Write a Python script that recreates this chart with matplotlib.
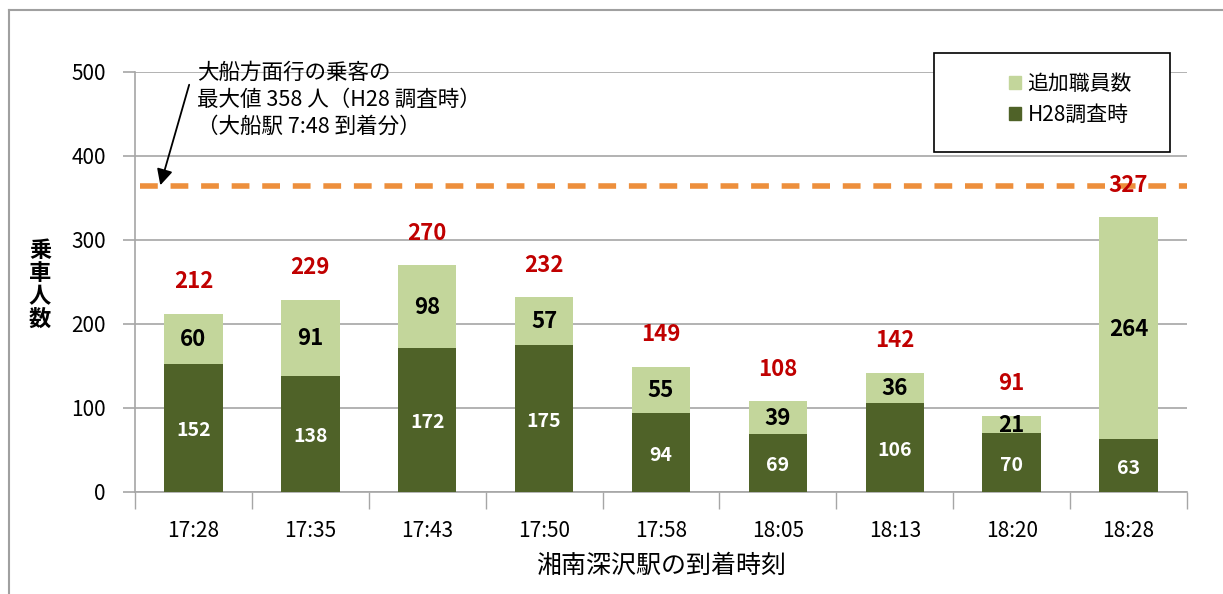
import numpy as np
import matplotlib.pyplot as plt
from matplotlib.lines import Line2D
from matplotlib.patches import Rectangle, Patch

plt.rcParams['font.family'] = ['Noto Sans CJK JP', 'DejaVu Sans']

times = ["17:28", "17:35", "17:43", "17:50", "17:58", "18:05", "18:13", "18:20", "18:28"]
h28 = [152, 138, 172, 175, 94, 69, 106, 70, 63]
added = [60, 91, 98, 57, 55, 39, 36, 21, 264]
totals = [212, 229, 270, 232, 149, 108, 142, 91, 327]
max_line = 364  # dashed line as drawn (label says 358)

dark = '#4F6228'
light = '#C3D69B'
grid_c = '#A6A6A6'

fig = plt.figure(figsize=(12.23, 5.94), dpi=100)
ax = fig.add_axes([135/1223, 1-492/594, (1187-135)/1223, (492-72)/594])

x = np.arange(len(times))
ax.bar(x, h28, width=0.5, color=dark, zorder=3)
ax.bar(x, added, width=0.5, bottom=h28, color=light, zorder=3)

for i in range(len(x)):
    ax.text(x[i], h28[i]/2 - 3, str(h28[i]), ha='center', va='center',
            color='white', fontsize=14, fontweight='bold', zorder=5)
    ax.text(x[i], h28[i] + added[i]/2 - 1, str(added[i]), ha='center', va='center',
            color='black', fontsize=16, fontweight='bold', zorder=5)
    ax.text(x[i], totals[i] + 38, str(totals[i]), ha='center', va='center',
            color='#C00000', fontsize=16, fontweight='bold', zorder=6)

ax.axhline(max_line, xmin=0.005, color='#ED8F3C', lw=4, ls=(0, (3.2, 2.3)), zorder=4)

ax.set_xlim(-0.5, len(times) - 0.5)
ax.set_ylim(0, 500)
ax.set_yticks(range(0, 501, 100))
ax.yaxis.grid(True, color=grid_c, lw=1.2, zorder=0)
ax.set_xticks(x)
ax.set_xticklabels(times, fontsize=15)
ax.set_xticks(np.arange(-0.5, len(times), 1), minor=True)
ax.tick_params(axis='x', which='major', length=0, pad=20)
ax.tick_params(axis='x', which='minor', length=12, color=grid_c, width=1)
ax.tick_params(axis='y', length=9, color=grid_c, width=1.2, labelsize=15, pad=12)
for s in ['top', 'right']:
    ax.spines[s].set_visible(False)
for s in ['left', 'bottom']:
    ax.spines[s].set_color(grid_c)
    ax.spines[s].set_linewidth(1.2)

ax.set_xlabel("湘南深沢駅の到着時刻", fontsize=18, labelpad=8)
fig.text(40/1223, 1-285/594, "乗\n車\n人\n数", ha='center', va='center',
         fontsize=16, fontweight='bold', linespacing=1.0)

# annotation
fig.text(197/1223, 1-62/594, "大船方面行の乗客の\n最大値 358 人（H28 調査時）\n（大船駅 7:48 到着分）",
         ha='left', va='top', fontsize=15.5, linespacing=1.3)
ax.annotate("", xy=(-0.29, max_line - 2), xytext=(-0.03, 488),
            arrowprops=dict(arrowstyle='-|>', color='black', lw=1.3, mutation_scale=24),
            annotation_clip=False)

# legend box
fig.patches.append(Rectangle((934/1223, 1-152/594), (1170-934)/1223, (152-53)/594,
                             transform=fig.transFigure, facecolor='white',
                             edgecolor='black', lw=1.2, zorder=10))
handles = [Patch(color=light, label='追加職員数'), Patch(color=dark, label='H28調査時')]
leg = fig.legend(handles=handles, loc='upper left', bbox_to_anchor=(990/1223, 1-54/594),
                 frameon=False, fontsize=15, handlelength=0.6, handleheight=0.6,
                 handletextpad=0.3, labelspacing=0.45)
leg.set_zorder(20)

# outer frame
fig.add_artist(Line2D([9/1223, 9/1223], [0, 1-10/594], color='#A0A0A0', lw=1.5))
fig.add_artist(Line2D([9/1223, 1], [1-10/594, 1-10/594], color='#A0A0A0', lw=1.5))

fig.savefig("out.png", dpi=100)
